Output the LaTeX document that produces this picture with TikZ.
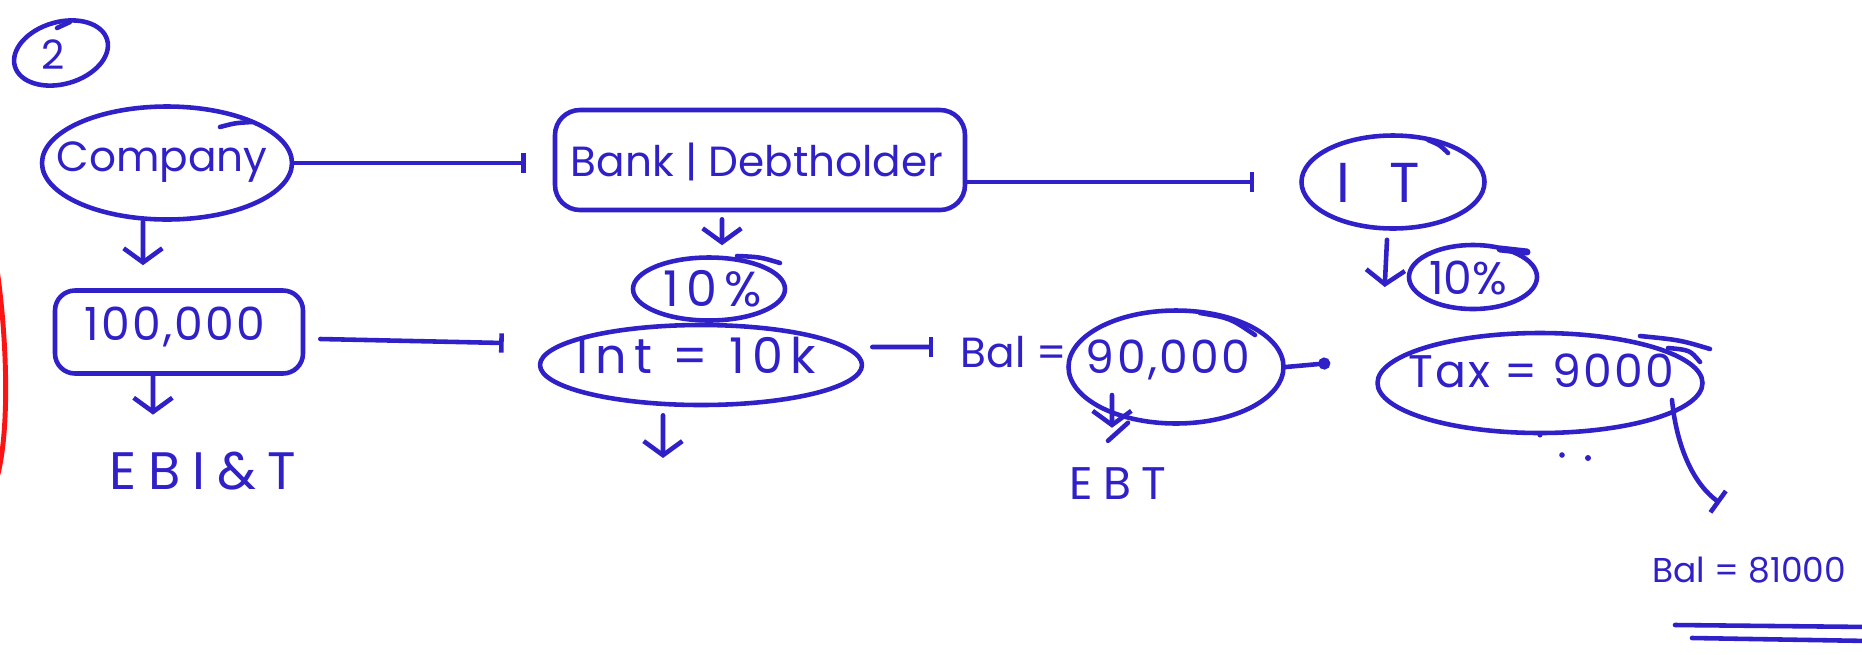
\documentclass[tikz,border=0pt]{standalone}
\usepackage{fontspec}
\setmainfont{Poppins}
% letter-spaced cuts of the same face for the airy labels
\newfontfamily\airy[LetterSpace=5]{Poppins}
\newfontfamily\airier[LetterSpace=15]{Poppins}
\newfontfamily\spaced[LetterSpace=22]{Poppins}
\newfontfamily\widely[LetterSpace=70]{Poppins}
\usetikzlibrary{arrows.meta,shapes.geometric}
\definecolor{ink}{RGB}{48,32,200}
\definecolor{redink}{RGB}{250,20,20}

\begin{document}
\begin{tikzpicture}[x=0.1mm,y=-0.1mm,line width=1.3pt,draw=ink,text=ink,
  line cap=round,line join=round,
  lbl/.style={inner sep=0pt,font=\fontsize{12}{14}\selectfont},
  oval/.style={ellipse,draw,inner sep=0pt},
  pill/.style={rectangle,draw,rounded corners=2.5mm,inner sep=0pt},
  tipbar/.style={-{Bar[width=5.5pt,line width=1.3pt]}},
  down/.style={-{Straight Barb[length=4pt,width=11pt,line width=1.3pt]}},
  dottip/.style={-{Circle[length=3.4pt]}}]
\useasboundingbox (0,0) rectangle (1862,654);

% ---- shapes ----
\node[oval,minimum width=9.6mm,minimum height=6.2mm,rotate=16] (s2) at (61,53) {};
\node[oval,minimum width=25mm,minimum height=11.3mm] (sComp) at (167,163) {};
\node[pill,minimum width=41mm,minimum height=10mm] (sBank) at (760,160) {};
\node[oval,minimum width=18.3mm,minimum height=9.3mm] (sIT) at (1393,182) {};
\node[pill,minimum width=24.8mm,minimum height=8.3mm,rounded corners=2mm] (sV100) at (179,332) {};
\node[oval,minimum width=15.2mm,minimum height=6.3mm] (sPct1) at (709,289) {};
\node[oval,minimum width=32.2mm,minimum height=8mm] (sInt) at (701,365) {};
\node[oval,minimum width=21.5mm,minimum height=11.3mm] (sV90) at (1176,367) {};
\node[oval,minimum width=12.8mm,minimum height=6.4mm] (sPct2) at (1473,277) {};
\node[oval,minimum width=32.5mm,minimum height=10mm] (sTax) at (1540,383) {};

% ---- labels ----
\node[lbl,font=\fontsize{11.5}{13}\selectfont] (t2) at (53,55) {2};
\node[lbl] (tComp) at (162,162) {Company};
\node[lbl] (tBank) at (757,162) {Bank | Debtholder};
\node[lbl,font=\widely\fontsize{16}{18}\selectfont] (tIT) at (1378,183) {IT};
\node[lbl,font=\airy\fontsize{13}{15}\selectfont] (tV100) at (175,327) {100,000};
\node[lbl,font=\spaced\fontsize{15}{17}\selectfont] (tEbit) at (203,471) {EBI\&T};
\node[lbl,font=\airier\fontsize{14}{16}\selectfont] (tPct1) at (713,289) {10\%};
\node[lbl,font=\airier\fontsize{14}{16}\selectfont] (tInt) at (696,355) {Int = 10k};
\node[lbl] (tBal) at (1014,352) {Bal =};
\node[lbl,font=\airy\fontsize{13}{15}\selectfont] (tV90) at (1168,360) {90,000};
\node[lbl,font=\spaced\fontsize{13}{15}\selectfont] (tEbt) at (1118,484) {EBT};
\node[lbl,font=\fontsize{13}{15}\selectfont] (tPct2) at (1468,278) {10\%};
\node[lbl,font=\airy\fontsize{13}{15}\selectfont] (tTax) at (1541,371) {Tax = 9000};
\node[lbl,font=\fontsize{9.8}{12}\selectfont,anchor=west] (tBalF) at (1650,570) {Bal = 81000};

% ---- double underline and the red margin stroke ----
\begin{scope}
  \clip (0,0) rectangle (1862,654);
  \draw (1675,625) -- (1870,627);
  \draw (1692,638) -- (1870,641);
  \draw[redink,line width=1.4pt] (-6,250) .. controls (6,320) and (11,420) .. (-2,474);
\end{scope}

% ---- pen overshoots ----
\draw (57,28) -- (70,22);
\draw (220,127) .. controls (235,123) .. (252,122);
\draw (1428,140) .. controls (1440,145) .. (1448,153);
\draw (737,256) .. controls (760,257) .. (780,263);
\draw[line width=2pt] (1500,249) -- (1527,252);
\draw (1200,313) .. controls (1230,318) .. (1255,335);
\draw (1640,336) .. controls (1680,340) .. (1710,349);
\draw (1668,348) .. controls (1690,350) .. (1700,362);

% ---- horizontal connectors ----
\draw[tipbar,shorten >=2.7mm] (sComp.east) -- (sComp.east -| sBank.west);
\draw[tipbar,shorten >=4.5mm] (sBank.east |- sIT.center) -- (sIT.west);
\draw[tipbar] ([xshift=1.5mm,yshift=-0.7mm]sV100.east) -- ([xshift=-3.4mm,yshift=2.2mm]sInt.west);
\draw[tipbar] ([xshift=0.8mm,yshift=1.8mm]sInt.east) -- ([xshift=-2.5mm,yshift=0.5mm]tBal.west);
\draw[dottip] (sV90.east) -- ([xshift=-4.5mm,yshift=2mm]sTax.west);

% ---- downward connectors ----
\draw[down] ([xshift=-2.4mm]sComp.south) -- ([xshift=-3.6mm,yshift=2.3mm]sV100.north);
\draw[down] ([xshift=-2.6mm]sV100.south) -- ([xshift=-5mm,yshift=3.5mm]tEbit.north);
\draw[down] ([xshift=-3.8mm,yshift=-0.7mm]sBank.south) -- ([xshift=1.3mm,yshift=1mm]sPct1.north);
\coordinate (intDown) at (663,458);
\draw[down] ([xshift=-3.8mm,yshift=-0.8mm]sInt.south) -- (intDown);
\draw[down] ([xshift=-0.6mm,yshift=-0.9mm]sIT.south) -- ([xshift=-2.2mm,yshift=-1mm]sPct2.west);
\draw[down] ([xshift=-6.4mm,yshift=-2.8mm]sV90.center) -- ([xshift=-0.6mm,yshift=3.8mm]tEbt.north);
\draw ([xshift=-1mm,yshift=2.5mm]tEbt.north) -- ([xshift=1mm,yshift=4.3mm]tEbt.north);
\draw[-{Bar[width=7.5pt,line width=1.3pt]}] ([xshift=13.2mm,yshift=-1.7mm]sTax.center)
  .. controls +(0.5mm,-5mm) and +(-2.5mm,1.8mm) .. ([xshift=7mm,yshift=6.7mm]tBalF.west);

% ---- dots below the tax ----
\fill[ink] (1540,435) circle [radius=0.25mm];
\fill[ink] (1562,455) circle [radius=0.28mm];
\fill[ink] (1588,458) circle [radius=0.3mm];
\end{tikzpicture}
\end{document}
